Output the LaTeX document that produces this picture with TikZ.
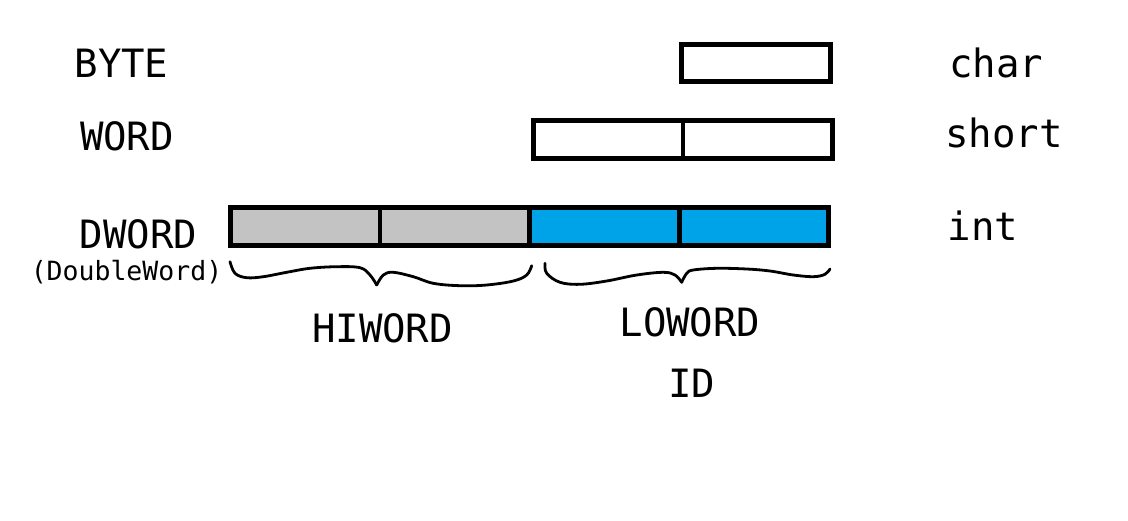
\documentclass[tikz,border=0pt]{standalone}
\usepackage{fontspec}
\newfontfamily\monofnt{DejaVu Sans Mono}
\definecolor{paintgray}{HTML}{C3C3C3}
\definecolor{paintblue}{HTML}{00A2E8}
\tikzset{
  lbl/.style={inner sep=0pt, anchor=base, font=\monofnt\fontsize{39}{41}\selectfont},
  smalllbl/.style={inner sep=0pt, anchor=base, font=\monofnt\fontsize{26.5}{28}\selectfont},
  cell/.style={draw=black, line width=4.8pt},
  bracestroke/.style={draw=black, line width=2.8pt, line cap=round, line join=round}
}
\begin{document}
\begin{tikzpicture}[x=1pt, y=-1pt]
\useasboundingbox (0,0) rectangle (1128,520);
% labels
\node[lbl] (byte) at (121.5,77) {BYTE};
\node[lbl] (word) at (127,150) {WORD};
\node[lbl] (dword) at (138.5,248) {DWORD};
\node[smalllbl] (dbl) at (126.5,280) {(DoubleWord)};
\node[lbl] (char) at (996,77) {char};
\node[lbl] (short) at (1004,147) {short};
\node[lbl] (int) at (983,240) {int};
\node[lbl] (hiword) at (382.5,342) {HIWORD};
\node[lbl] (loword) at (690,336) {LOWORD};
\node[lbl] (id) at (691.5,397) {ID};
% BYTE box
\draw[cell] (681.5,44.5) rectangle (830.5,81.5);
% WORD box
\draw[cell] (533.5,120.5) rectangle (832.5,158.5);
\draw[cell] (683,120.5) -- (683,158.5);
% DWORD box
\fill[paintgray] (230.5,207.5) rectangle (529.5,245.5);
\fill[paintblue] (529.5,207.5) rectangle (828.5,245.5);
\draw[cell] (230.5,207.5) rectangle (828.5,245.5);
\draw[cell] (380,207.5) -- (380,245.5);
\draw[cell] (529.5,207.5) -- (529.5,245.5);
\draw[cell] (679.5,207.5) -- (679.5,245.5);
% braces
\draw[bracestroke] plot[smooth, tension=0.6] coordinates {
  (230,261.7) (235,273.3) (246.7,277.7) (263.3,276.7) (286.7,272.3) (310,268.3)
  (336.7,266.7) (360,267.7) (370,275) (376.7,285)};
\draw[bracestroke] plot[smooth, tension=0.6] coordinates {
  (376.7,285) (383.3,275) (393.3,272.3) (413.3,276.7) (433.3,283.3) (460,285.7)
  (486.7,285) (513.3,281) (526.7,275) (531.7,265.7)};
\draw[bracestroke] plot[smooth, tension=0.6] coordinates {
  (545,263.3) (546.7,273.3) (560,282.3) (580,284.3) (606.7,281) (636.7,275)
  (663.3,272.3) (675,275) (681.7,282.3)};
\draw[bracestroke] plot[smooth, tension=0.6] coordinates {
  (681.7,282.3) (686.7,273.3) (693.3,270) (716.7,268.3) (746.7,269) (770,271)
  (793.3,275) (813.3,276.7) (825,274.3) (830,269)};
\end{tikzpicture}
\end{document}
